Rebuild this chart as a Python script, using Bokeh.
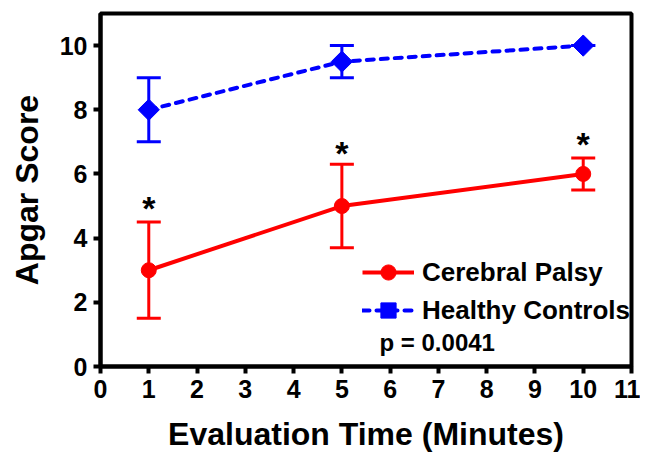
import math
from bokeh.plotting import figure
from bokeh.models import ColumnDataSource, Whisker, TeeHead, Legend, LegendItem, FixedTicker, Label
from bokeh.core.properties import value
from bokeh.embed import file_html
from bokeh.resources import INLINE

# Data
minutes = [1, 5, 10]
cp_mean = [3.0, 5.0, 6.0]
cp_lower = [1.5, 3.7, 5.5]
cp_upper = [4.5, 6.3, 6.5]
hc_mean = [8.0, 9.5, 10.0]
hc_lower = [7.0, 9.0, 10.0]
hc_upper = [9.0, 10.0, 10.0]
star_y = [4.95, 6.65, 6.93]
x_ticks = list(range(0, 12))
y_ticks = [0, 2, 4, 6, 8, 10]

FONT = "Liberation Sans"

p = figure(width=640, height=455, x_range=(0, 11), y_range=(0, 11),
           output_backend="svg", toolbar_location=None,
           min_border_left=100, min_border_right=9, min_border_top=13, min_border_bottom=89)
p.grid.visible = False
p.outline_line_color = "black"
p.outline_line_width = 4
p.background_fill_color = "white"
p.border_fill_color = "white"

for ax in (p.xaxis[0], p.yaxis[0]):
    ax.axis_line_width = 4
    ax.major_tick_line_width = 4
    ax.major_tick_out = 7
    ax.major_tick_in = 0
    ax.minor_tick_line_color = None
    ax.major_label_text_font = FONT
    ax.major_label_text_font_style = "bold"
    ax.major_label_text_font_size = "25px"
    ax.major_label_text_color = "black"
    ax.axis_label_text_font = FONT
    ax.axis_label_text_font_style = "bold"
    ax.axis_label_text_font_size = "32px"
    ax.axis_label_text_color = "black"

p.xaxis.ticker = FixedTicker(ticks=x_ticks)
p.yaxis.ticker = FixedTicker(ticks=y_ticks)
p.xaxis.axis_label = "Evaluation Time (Minutes)"
p.yaxis.axis_label = "Apgar Score"
p.xaxis.major_label_standoff = 6
p.yaxis.major_label_standoff = 6
p.xaxis.axis_label_standoff = 15
p.yaxis.axis_label_standoff = 12

cp = ColumnDataSource(dict(x=minutes, y=cp_mean, lo=cp_lower, hi=cp_upper))
hc = ColumnDataSource(dict(x=minutes, y=hc_mean, lo=hc_lower, hi=hc_upper))

for src, col in ((cp, "#ff0000"), (hc, "#0000ff")):
    w = Whisker(source=src, base="x", lower="lo", upper="hi",
                line_color=col, line_width=3,
                upper_head=TeeHead(size=24, line_color=col, line_width=3),
                lower_head=TeeHead(size=24, line_color=col, line_width=3))
    p.add_layout(w)

cp_line = p.line("x", "y", source=cp, line_color="#ff0000", line_width=4)
cp_pts = p.scatter("x", "y", source=cp, marker="circle", size=15,
                   fill_color="#ff0000", line_color="#ff0000")
hc_line = p.line("x", "y", source=hc, line_color="#0000ff", line_width=4,
                 line_dash="7 7", line_cap="round")
hc_pts = p.scatter("x", "y", source=hc, marker="square", size=15, angle=math.pi / 4,
                   fill_color="#0000ff", line_color="#0000ff")

p.text(x=minutes, y=star_y, text=["*"] * 3, text_align="center",
       text_baseline="middle", text_font=value(FONT), text_font_style="bold",
       text_font_size="34px", text_color="black")

legend = Legend(items=[
    LegendItem(label="Cerebral Palsy", renderers=[cp_line, cp_pts]),
    LegendItem(label="Healthy Controls", renderers=[hc_line, hc_pts]),
], location=(262, 37))
legend.border_line_color = None
legend.background_fill_alpha = 0
legend.label_text_font = FONT
legend.label_text_font_style = "bold"
legend.label_text_font_size = "26px"
legend.label_text_color = "black"
legend.glyph_width = 52
legend.glyph_height = 38
legend.label_standoff = 8
legend.spacing = 0
legend.padding = 0
legend.margin = 0
p.add_layout(legend)

p.add_layout(Label(x=279, y=11, x_units="screen", y_units="screen",
                   text="p = 0.0041", text_font=FONT, text_font_style="bold",
                   text_font_size="24px", text_color="black"))

open("out.html", "w").write(file_html(p, INLINE))
